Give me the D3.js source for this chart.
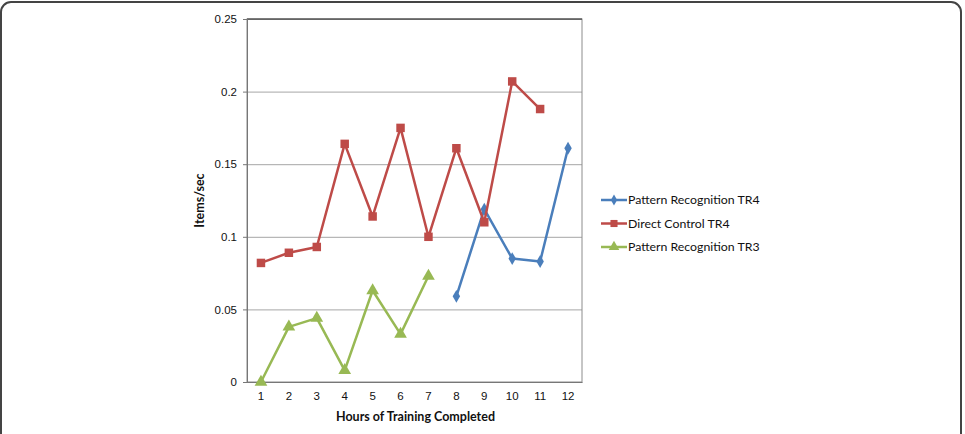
<!DOCTYPE html>
<html>
<head>
<meta charset="utf-8">
<script src="https://cdn.jsdelivr.net/npm/d3@7"></script>
<style>
  body { margin: 0; background: #fff; }
  svg { display: block; font-family: Lato, "Open Sans", sans-serif; }
</style>
</head>
<body>
<svg id="chart"></svg>
<script>
let hours = [1, 2, 3, 4, 5, 6, 7, 8, 9, 10, 11, 12];
let yTicks = [0, 0.05, 0.1, 0.15, 0.2, 0.25];

// values per hour, null where the series has no point
let patternTR4 = [null, null, null, null, null, null, null, 0.059, 0.119, 0.085, 0.083, 0.161];
let directTR4 = [0.082, 0.089, 0.093, 0.164, 0.114, 0.175, 0.1, 0.161, 0.11, 0.207, 0.188, null];
let patternTR3 = [0, 0.038, 0.044, 0.008, 0.063, 0.033, 0.073, null, null, null, null, null];

let seriesNames = ['Pattern Recognition TR4', 'Direct Control TR4', 'Pattern Recognition TR3'];
let seriesColors = ['#4a7ebb', '#be4b48', '#98b954'];
let seriesMarkers = [d3.symbolDiamond, d3.symbolSquare, d3.symbolTriangle];
let seriesSizes = [48, 72, 70];

let width = 965, height = 434;
let margin = {top: 19, right: 383, bottom: 52, left: 247};
let w = width - margin.left - margin.right;
let h = height - margin.top - margin.bottom;

let svg = d3.select('#chart').attr('width', width).attr('height', height);

// outer rounded frame
svg.append('rect')
    .attr('x', 1).attr('y', 2).attr('width', 960).attr('height', 460)
    .attr('rx', 10).attr('ry', 10)
    .style('fill', 'none').style('stroke', '#444').style('stroke-width', 2);

let g = svg.append('g').attr('transform', 'translate(' + margin.left + ',' + margin.top + ')');

let xScale = d3.scaleBand().domain(hours).range([0, w]);
let yScale = d3.scaleLinear().domain([0, 0.25]).range([h, 0]);

// gridlines
g.append('g')
    .call(d3.axisLeft(yScale).tickValues(yTicks).tickSize(-w).tickFormat(''))
    .call(a => a.select('.domain').remove())
    .selectAll('line').style('stroke', '#a6a6a6');

// plot border
g.append('rect').attr('width', w).attr('height', h)
    .style('fill', 'none').style('stroke', '#8c8c8c');
g.append('line').attr('x1', 0).attr('x2', w).attr('y1', 0).attr('y2', 0)
    .style('stroke', '#333');

// y axis
let yAxis = g.append('g')
    .call(d3.axisLeft(yScale).tickValues(yTicks).tickSize(4).tickPadding(6).tickFormat(d => d3.format('')(+d.toFixed(2))));
yAxis.select('.domain').style('stroke', '#777');
yAxis.selectAll('line').style('stroke', '#777');
yAxis.selectAll('text').style('font-size', '11.5px').style('fill', '#111');

// x axis
let xAxis = g.append('g').attr('transform', 'translate(0,' + h + ')')
    .call(d3.axisBottom(xScale).tickSize(0).tickPadding(10));
xAxis.select('.domain').style('stroke', '#777');
xAxis.selectAll('text').style('font-size', '11.5px').style('fill', '#111');

// axis titles
svg.append('text')
    .attr('x', margin.left + w / 2 + 1).attr('y', 421)
    .attr('text-anchor', 'middle')
    .style('font-size', '12.5px').style('font-weight', 'bold').style('fill', '#111')
    .text('Hours of Training Completed');
svg.append('text')
    .attr('transform', 'translate(204,' + (margin.top + h / 2) + ') rotate(-90)')
    .attr('text-anchor', 'middle')
    .style('font-size', '12.5px').style('font-weight', 'bold').style('fill', '#111')
    .text('Items/sec');

// series
let allSeries = [patternTR4, directTR4, patternTR3];
let line = d3.line()
    .defined(d => d.v !== null)
    .x(d => xScale(d.hour) + xScale.bandwidth() / 2)
    .y(d => yScale(d.v));

allSeries.forEach((vals, i) => {
    let pts = hours.map((hour, j) => ({hour: hour, v: vals[j]}));
    g.append('path').datum(pts)
        .attr('d', line)
        .style('fill', 'none').style('stroke', seriesColors[i]).style('stroke-width', 2.5)
        .style('stroke-linejoin', 'round');
    g.selectAll('.mk' + i).data(pts.filter(d => d.v !== null)).enter().append('path')
        .attr('class', 'mk' + i)
        .attr('transform', d => 'translate(' + (xScale(d.hour) + xScale.bandwidth() / 2) + ',' + yScale(d.v) + ')')
        .attr('d', d3.symbol().type(seriesMarkers[i]).size(seriesSizes[i]))
        .style('fill', seriesColors[i]);
});

// legend
let legendY = [200, 223.5, 247];
let legend = svg.selectAll('.legend').data(seriesNames).enter().append('g')
    .attr('class', 'legend')
    .attr('transform', (d, i) => 'translate(601,' + legendY[i] + ')');
legend.append('line').attr('x1', 0).attr('x2', 26)
    .style('stroke', (d, i) => seriesColors[i]).style('stroke-width', 2.5);
legend.append('path')
    .attr('transform', 'translate(13,0)')
    .attr('d', (d, i) => d3.symbol().type(seriesMarkers[i]).size(seriesSizes[i] * 0.7)())
    .style('fill', (d, i) => seriesColors[i]);
legend.append('text').attr('x', 27).attr('dy', '0.35em')
    .style('font-size', '12.3px').style('fill', '#111')
    .text(d => d);
</script>
</body>
</html>
